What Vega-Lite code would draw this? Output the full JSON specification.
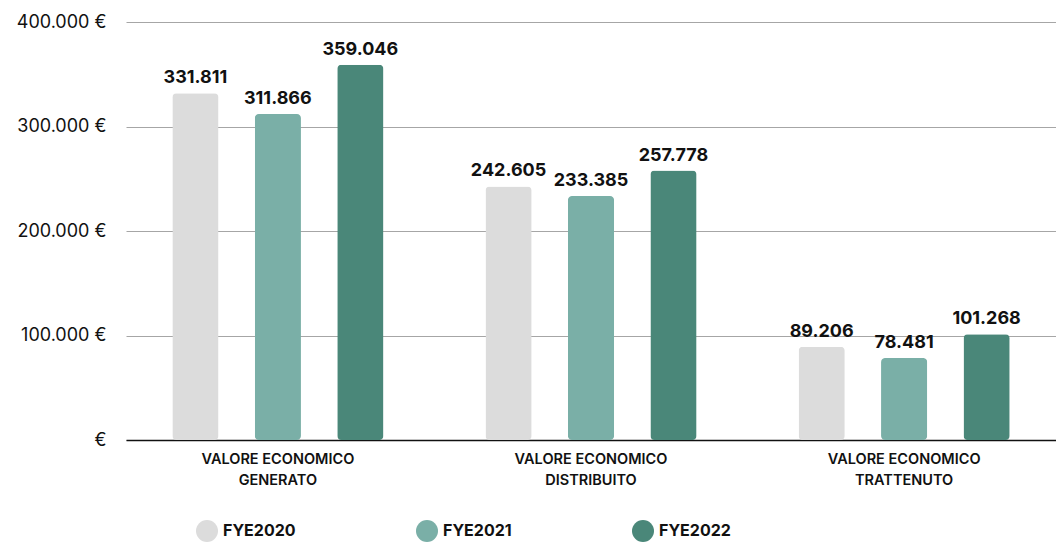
{
  "$schema": "https://vega.github.io/schema/vega-lite/v6.json",
  "width": 930,
  "height": 418,
  "autosize": {"type": "none"},
  "padding": {"left": 126, "top": 22, "right": 0, "bottom": 102},
  "background": "white",
  "config": {
    "view": {"stroke": null},
    "font": "Inter",
    "locale": {"number": {"decimal": ",", "thousands": ".", "grouping": [3], "currency": ["", " €"]}}
  },
  "data": {
    "values": [
      {"categoria": "VALORE ECONOMICO GENERATO", "anno": "FYE2020", "valore": 331811},
      {"categoria": "VALORE ECONOMICO GENERATO", "anno": "FYE2021", "valore": 311866},
      {"categoria": "VALORE ECONOMICO GENERATO", "anno": "FYE2022", "valore": 359046},
      {"categoria": "VALORE ECONOMICO DISTRIBUITO", "anno": "FYE2020", "valore": 242605},
      {"categoria": "VALORE ECONOMICO DISTRIBUITO", "anno": "FYE2021", "valore": 233385},
      {"categoria": "VALORE ECONOMICO DISTRIBUITO", "anno": "FYE2022", "valore": 257778},
      {"categoria": "VALORE ECONOMICO TRATTENUTO", "anno": "FYE2020", "valore": 89206},
      {"categoria": "VALORE ECONOMICO TRATTENUTO", "anno": "FYE2021", "valore": 78481},
      {"categoria": "VALORE ECONOMICO TRATTENUTO", "anno": "FYE2022", "valore": 101268}
    ]
  },
  "encoding": {
    "x": {
      "field": "categoria",
      "type": "nominal",
      "sort": null,
      "scale": {"paddingInner": 0.21, "paddingOuter": 0.09},
      "axis": {
        "title": null,
        "labelAngle": 0,
        "labelExpr": "['VALORE ECONOMICO', slice(datum.label, 17)]",
        "labelFontSize": 14.5,
        "labelFontWeight": 600,
        "labelColor": "#111111",
        "labelLineHeight": 21,
        "labelPadding": 12,
        "ticks": false,
        "domainColor": "#111111",
        "domainWidth": 1.5
      }
    },
    "xOffset": {
      "field": "anno",
      "type": "nominal",
      "scale": {"paddingInner": 0.44, "paddingOuter": 0.22}
    },
    "y": {
      "field": "valore",
      "type": "quantitative",
      "scale": {"domain": [0, 400000]},
      "axis": {
        "title": null,
        "values": [0, 100000, 200000, 300000, 400000],
        "format": "$,d",
        "labelExpr": "datum.value == 0 ? '€' : datum.label",
        "labelOverlap": false,
        "labelFontSize": 18,
        "labelColor": "#111111",
        "labelPadding": 20,
        "ticks": false,
        "domain": false,
        "gridColor": "#a6a6a6",
        "gridWidth": 1
      }
    },
    "color": {
      "field": "anno",
      "type": "nominal",
      "scale": {"range": ["#dcdcdc", "#7aafa7", "#4a8779"]},
      "legend": {
        "title": null,
        "orient": "none",
        "legendX": 70,
        "legendY": 498,
        "direction": "horizontal",
        "symbolType": "circle",
        "symbolSize": 484,
        "symbolStrokeWidth": 0,
        "symbolOpacity": 1,
        "labelFontSize": 16,
        "labelFontWeight": "bold",
        "labelColor": "#111111",
        "labelOffset": 5,
        "columnPadding": 120
      }
    }
  },
  "layer": [
    {"mark": {"type": "bar", "cornerRadius": 4}},
    {
      "mark": {"type": "text", "baseline": "bottom", "dy": -6, "fontSize": 18, "fontWeight": "bold", "color": "#111111"},
      "encoding": {
        "text": {"field": "valore", "type": "quantitative", "format": ",d"},
        "color": {"value": "#111111"}
      }
    }
  ]
}
